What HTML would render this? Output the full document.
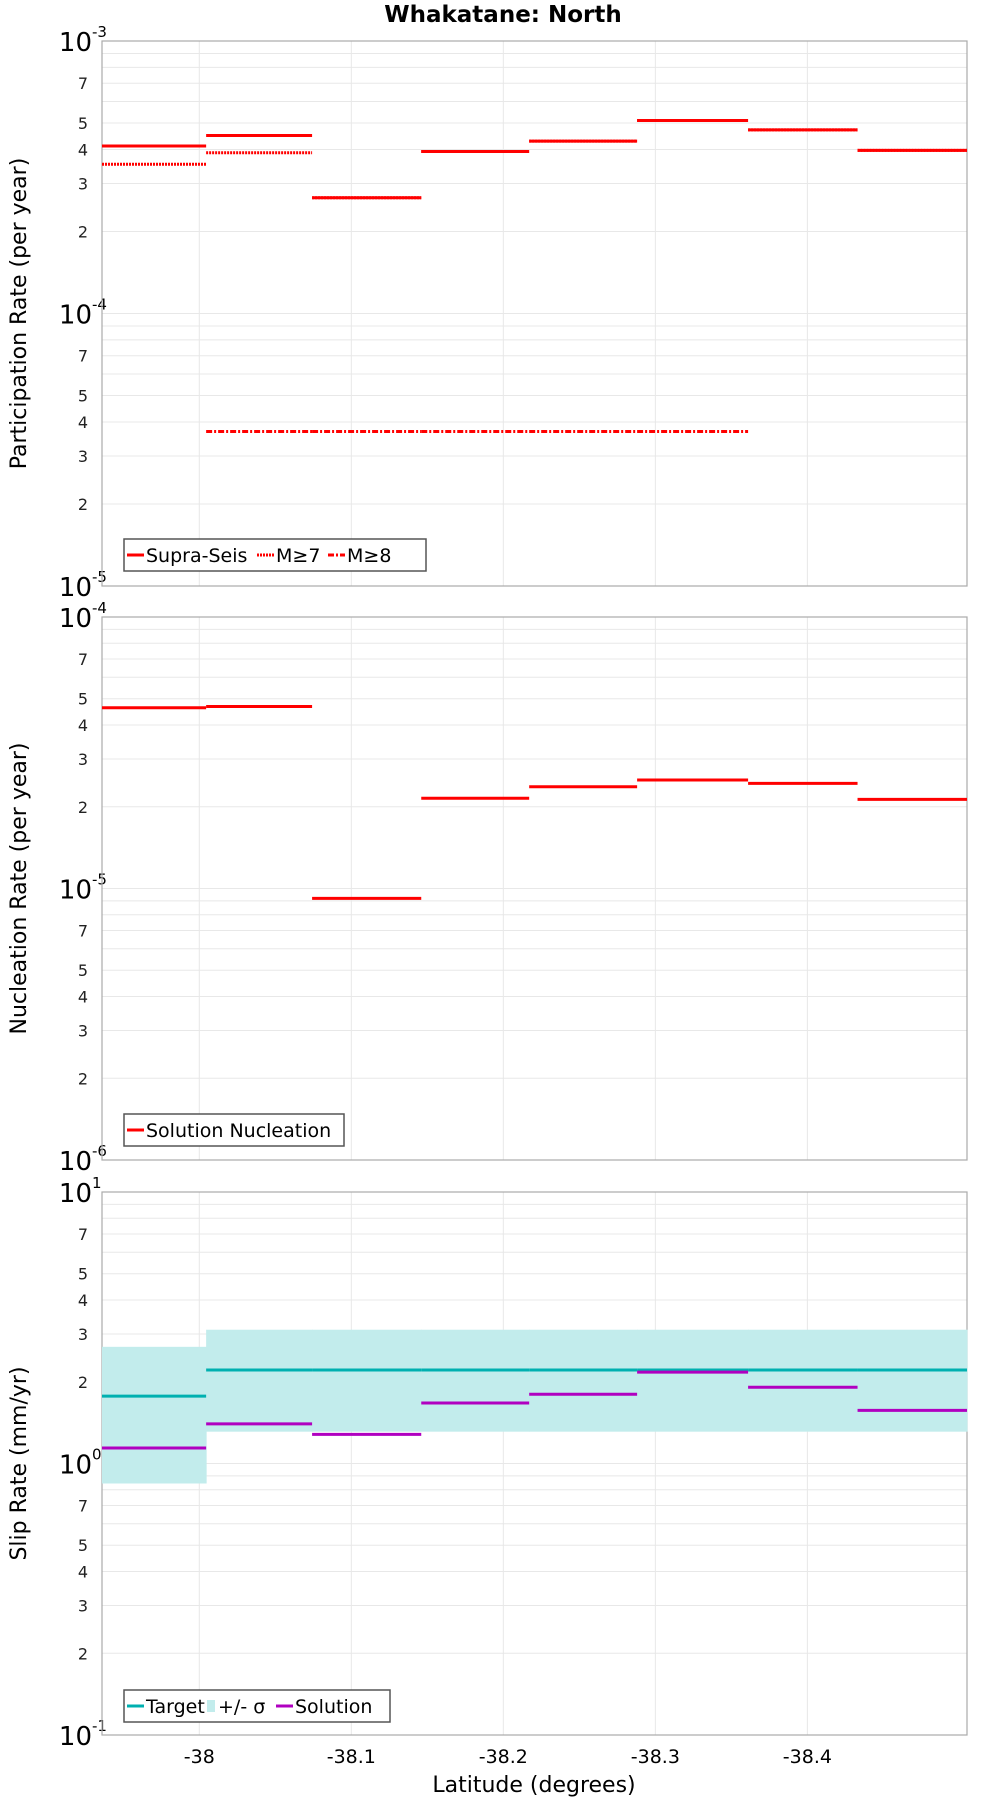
<!DOCTYPE html>
<html><head><meta charset="utf-8"><style>
html,body{margin:0;padding:0;background:#fff;}
svg{display:block;font-family:"DejaVu Sans","Liberation Sans",sans-serif;}
</style></head><body>
<svg id="chart" width="1000" height="1800" viewBox="0 0 1000 1800" xmlns="http://www.w3.org/2000/svg">
<text x="503" y="22" text-anchor="middle" font-size="23" font-weight="bold">Whakatane: North</text>
<g id="layer"></g>
</svg>
<script>
const latBounds = [-37.936, -38.0045, -38.0742, -38.146, -38.217, -38.288, -38.361, -38.433, -38.505];
const xTicks = [-38, -38.1, -38.2, -38.3, -38.4];
const xTickLabels = ["-38", "-38.1", "-38.2", "-38.3", "-38.4"];
const supraSeis = [4.12e-4, 4.5e-4, 2.66e-4, 3.93e-4, 4.29e-4, 5.11e-4, 4.72e-4, 3.97e-4];
const m7 = [3.53e-4, 3.89e-4, 2.66e-4, 3.93e-4, 4.29e-4, 5.11e-4, 4.72e-4, 3.97e-4];
const m8 = [null, 3.69e-5, 3.69e-5, 3.69e-5, 3.69e-5, 3.69e-5, null, null];
const nucleation = [4.63e-5, 4.68e-5, 9.2e-6, 2.15e-5, 2.37e-5, 2.51e-5, 2.44e-5, 2.13e-5];
const targetSlip = [1.77, 2.21, 2.21, 2.21, 2.21, 2.21, 2.21, 2.21];
const sigmaHigh = [2.69, 3.11, 3.11, 3.11, 3.11, 3.11, 3.11, 3.11];
const sigmaLow = [0.844, 1.31, 1.31, 1.31, 1.31, 1.31, 1.31, 1.31];
const solutionSlip = [1.14, 1.40, 1.28, 1.67, 1.80, 2.17, 1.91, 1.57];

const NS = "http://www.w3.org/2000/svg";
const layer = document.getElementById('layer');
const X0 = 102, X1 = 967;
const latMin = -37.936, latMax = -38.505;
function xs(lat){ return X0 + (lat - latMin) / (latMax - latMin) * (X1 - X0); }
function mk(tag, attrs, parent){
  const e = document.createElementNS(NS, tag);
  for (const k in attrs) e.setAttribute(k, attrs[k]);
  (parent || layer).appendChild(e);
  return e;
}
function panel(name, top, bottom, expTop, expBot, ytitle){
  const g = mk('g', {});
  
  
  const ys = v => top + (expTop - Math.log10(v)) / (expTop - expBot) * (bottom - top);
  for (let e = expBot; e < expTop; e++) {
    for (let m = 1; m < 10; m++) {
      const v = m * Math.pow(10, e);
      const y = ys(v);
      const l = mk('line', {x1: X0, x2: X1, y1: y, y2: y, stroke: '#e8e8e8', 'stroke-width': 1}, g);
      
      
      if (m === 1) continue;
      if ([2,3,4,5,7].includes(m)) {
        const t = mk('text', {x: X0 - 14, y: y + 6, 'text-anchor': 'end', 'font-size': 16, fill: '#222'}, g);
        
        
        t.textContent = m;
      }
    }
  }
  for (let e = expBot; e <= expTop; e++) {
    const y = ys(Math.pow(10, e));
    const t = mk('text', {x: X0 - 10, y: y + 10, 'text-anchor': 'end', 'font-size': 26, fill: '#000'}, g);
    
    
    t.textContent = '10';
    const s = mk('text', {x: X0 - 10, y: y - 4, 'font-size': 15, fill: '#000'}, g);
    
    
    s.textContent = e;
  }
  xTicks.forEach(v => {
    const x = xs(v);
    const l = mk('line', {x1: x, x2: x, y1: top, y2: bottom, stroke: '#e8e8e8', 'stroke-width': 1}, g);
    
    
  });
  const r = mk('rect', {x: X0, y: top, width: X1 - X0, height: bottom - top, fill: 'none', stroke: '#aaa', 'stroke-width': 1.2}, g);
  
  
  const cy = (top + bottom) / 2;
  const yt = mk('text', {x: 0, y: 0, transform: `translate(26,${cy}) rotate(-90)`, 'text-anchor': 'middle', 'font-size': 22, fill: '#000'}, g);
  
  
  yt.textContent = ytitle;
  return {g, ys};
}
function segs(g, p, vals, color, dash, name, w){
  vals.forEach((v, i) => {
    if (v == null) return;
    const y = p.ys(v);
    const a = {x1: xs(latBounds[i]), x2: xs(latBounds[i+1]), y1: y, y2: y, stroke: color, 'stroke-width': w || 3};
    if (dash) a['stroke-dasharray'] = dash;
    const l = mk('line', a, g);
    
    
  });
}
function legend(g, x, y, w, items){
  const box = mk('rect', {x: x, y: y, width: w, height: 32, fill: '#fff', stroke: '#555', 'stroke-width': 1.5}, g);
  
  
  let cx = x + 3;
  items.forEach(it => {
    if (it.rect) {
      const r = mk('rect', {x: cx + 5, y: y + 10, width: 8, height: 12, fill: it.color}, g);
      
      
      cx += 16;
    } else {
      const a = {x1: cx, x2: cx + 17, y1: y + 16, y2: y + 16, stroke: it.color, 'stroke-width': 3};
      if (it.dash) a['stroke-dasharray'] = it.dash;
      const l = mk('line', a, g);
      
      
      cx += 19;
    }
    const t = mk('text', {x: cx, y: y + 23, 'font-size': 19, fill: '#000'}, g);
    
    
    t.textContent = it.label;
    cx += it.tw;
  });
}
const p1 = panel('participation', 41, 586, -3, -5, 'Participation Rate (per year)');
segs(p1.g, p1, supraSeis, '#ff0000', null, 'supra-seis');
segs(p1.g, p1, m7, '#ff0000', '2,1', 'm7', 3);
segs(p1.g, p1, m8, '#ff0000', '6,2,2,2', 'm8', 3);
legend(p1.g, 124, 539, 302, [
  {color: '#f00', label: 'Supra-Seis', tw: 111},
  {color: '#f00', dash: '2,1', label: 'M≥7', tw: 52},
  {color: '#f00', dash: '6,2,2,2', label: 'M≥8', tw: 50}
]);
const p2 = panel('nucleation', 617, 1160, -4, -6, 'Nucleation Rate (per year)');
segs(p2.g, p2, nucleation, '#ff0000', null, 'nucleation');
legend(p2.g, 124, 1114, 220, [{color: '#f00', label: 'Solution Nucleation', tw: 190}]);
const p3 = panel('slip-rate', 1192, 1735, 1, -1, 'Slip Rate (mm/yr)');
sigmaHigh.forEach((v, i) => {
  const yT = p3.ys(v), yB = p3.ys(sigmaLow[i]);
  const r = mk('rect', {x: xs(latBounds[i]), y: yT, width: xs(latBounds[i+1]) - xs(latBounds[i]) + 0.5, height: yB - yT, fill: '#c2ecec'}, p3.g);
  
  
});
segs(p3.g, p3, targetSlip, '#00b0b0', null, 'target');
segs(p3.g, p3, solutionSlip, '#b000c0', null, 'solution');
legend(p3.g, 124, 1690, 266, [
  {color: '#00b0b0', label: 'Target', tw: 56},
  {rect: true, color: '#c2ecec', label: '+/- σ', tw: 58},
  {color: '#b000c0', label: 'Solution', tw: 80}
]);
xTicks.forEach((v, i) => {
  const t = mk('text', {x: xs(v), y: 1763, 'text-anchor': 'middle', 'font-size': 19, fill: '#000'});
  
  
  t.textContent = xTickLabels[i];
});
const xt = mk('text', {x: 534, y: 1792, 'text-anchor': 'middle', 'font-size': 22, fill: '#000'});


xt.textContent = 'Latitude (degrees)';
</script>
</body></html>
